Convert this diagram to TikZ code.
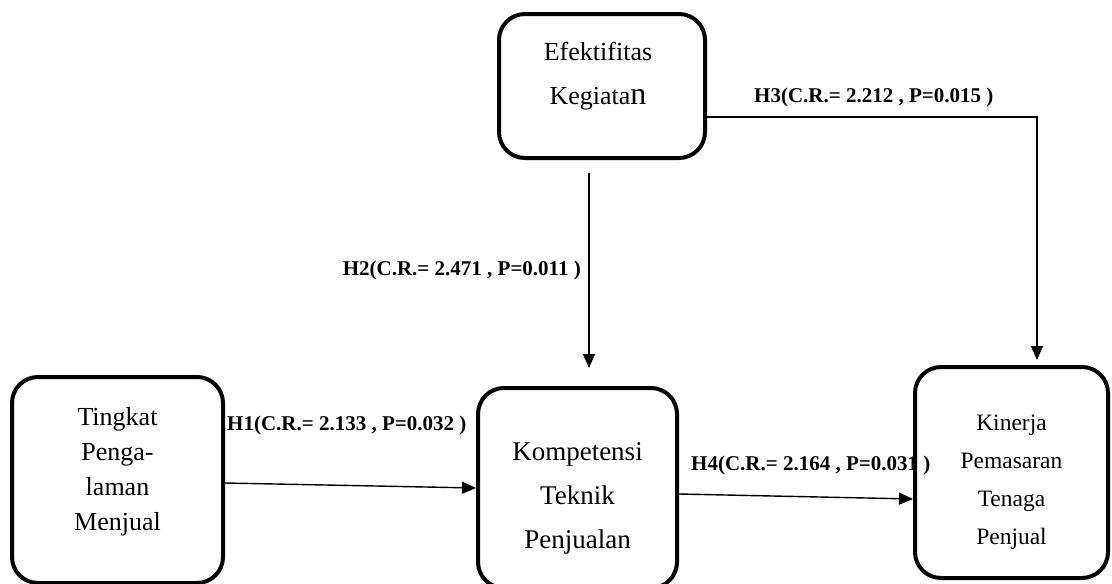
\documentclass[tikz,border=0pt]{standalone}
\usepackage{fontspec}
\setmainfont{Liberation Serif}
\usetikzlibrary{arrows.meta}
\begin{document}
\begin{tikzpicture}[x=1pt,y=-1pt,
  varbox/.style={draw=black,line width=4pt,rounded corners=26pt,align=center,inner sep=0pt},
  conn/.style={line width=1.4pt,-{Triangle[length=14pt,width=12pt]}},
  hlabel/.style={font=\bfseries\fontsize{21}{24}\selectfont,inner sep=0pt}]
\useasboundingbox (0,0) rectangle (1112,584);
% labels (drawn first so box borders lie over them)
\node[hlabel,anchor=west] (L3) at (754,97) {H3(C.R.= 2.212 , P=0.015 )};
\node[hlabel,anchor=east] (L2) at (581,270) {H2(C.R.= 2.471 , P=0.011 )};
\node[hlabel,anchor=west] (L1) at (227,425) {H1(C.R.= 2.133 , P=0.032 )};
\node[hlabel,anchor=west] (L4) at (691,465) {H4(C.R.= 2.164 , P=0.031 )};
% boxes
\node[varbox,minimum width=206pt,minimum height=144pt] (E) at (602,86) {};
\node[font=\fontsize{26}{44}\selectfont,align=center] (Et) at (598,76) {Efektifitas\\Kegiata{\fontsize{32}{44}\selectfont n}};
\node[varbox,minimum width=211pt,minimum height=206pt] (T) at (117.5,480) {};
\node[font=\fontsize{26}{35}\selectfont,align=center] (Tt) at (117.5,472) {Tingkat\\Penga-\\laman\\Menjual};
\node[varbox,minimum width=199pt,minimum height=200pt] (K) at (577.5,488) {};
\node[font=\fontsize{27}{44}\selectfont,align=center] (Kt) at (577.5,498) {Kompetensi\\Teknik\\Penjualan};
\node[varbox,minimum width=193pt,minimum height=211pt] (P) at (1011.5,472.5) {};
\node[font=\fontsize{23.5}{38}\selectfont,align=center] (Pt) at (1011.5,482) {Kinerja\\Pemasaran\\Tenaga\\Penjual};
% connectors
\coordinate (h2s) at (589,173);
\coordinate (h2e) at (589,368);
\draw[conn] (h2s) -- (h2e);
\coordinate (h3a) at (E.east |- 0,117);
\coordinate (h3b) at (1037,117);
\coordinate (h3e) at (1037,360);
\draw[conn] (h3a) -- (h3b) -- (h3e);
\coordinate (h1s) at (T.east |- 0,483);
\coordinate (h1e) at (K.west |- 0,488);
\draw[conn] (h1s) -- (h1e);
\coordinate (h4s) at (K.east |- 0,494);
\coordinate (h4e) at (P.west |- 0,499);
\draw[conn] (h4s) -- (h4e);
\end{tikzpicture}
\end{document}
